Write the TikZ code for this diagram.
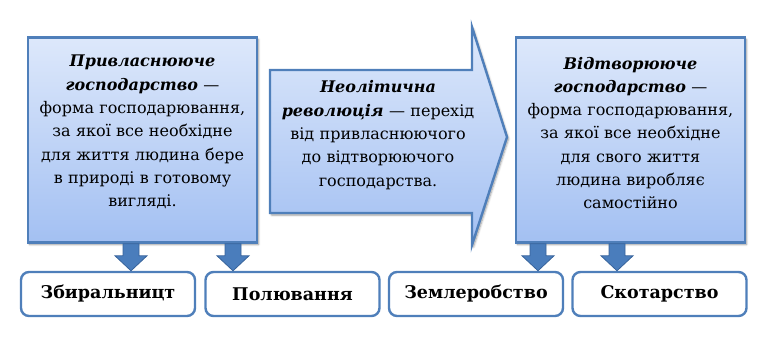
\documentclass[tikz,border=0pt]{standalone}
\usepackage{fontspec}
\setmainfont{DejaVu Serif}
\usetikzlibrary{positioning,calc,shadows.blur}
\definecolor{boxedge}{HTML}{4F7FBA}
\definecolor{boxtop}{HTML}{DDE8FB}
\definecolor{boxbot}{HTML}{A3C0F2}
\definecolor{arrfill}{HTML}{4A7DBC}
\definecolor{arredge}{HTML}{37639B}

\begin{document}
\begin{tikzpicture}[
  x=1pt, y=-1pt,
  mainbox/.style={draw=boxedge, line width=2.4pt, top color=boxtop, bottom color=boxbot, blur shadow={shadow xshift=1.5pt, shadow yshift=-2pt, shadow blur steps=6, shadow opacity=40}, minimum width=229pt, minimum height=205pt, inner sep=0pt},
  boxtext/.style={text width=222pt, align=center, inner sep=0pt, font=\fontsize{16}{23.3}\selectfont},
  leafbox/.style={draw=boxedge, line width=2.4pt, fill=white, rounded corners=8pt, minimum width=174pt, minimum height=44pt, font=\bfseries\fontsize{17.5}{20}\selectfont},
  blockarr/.style={fill=arrfill, draw=arredge, line width=0.8pt}
]
\useasboundingbox (0,0) rectangle (765,339);

% Main boxes
\node[mainbox] (appr) at (142.5,140) {};
\node[boxtext] (apprtxt) at ([yshift=8pt]appr.center) {\textbf{\textit{Привласнююче господарство}} —\\ форма господарювання,\\ за якої все необхідне\\ для життя людина бере\\ в природі в готовому\\ вигляді.};

\node[mainbox] (prod) at (630.5,140) {};
\node[boxtext] (prodtxt) at ([yshift=7pt]prod.center) {\textbf{\textit{Відтворююче господарство}} —\\ форма господарювання,\\ за якої все необхідне\\ для свого життя\\ людина виробляє\\ самостійно};

% Transition arrow
\path[draw=boxedge, line width=2.4pt, top color=boxtop, bottom color=boxbot, blur shadow={shadow xshift=1.5pt, shadow yshift=-2pt, shadow blur steps=6, shadow opacity=40}]
  (270,70) -- (472,70) -- (472,27) -- (507,137) -- (472,245) -- (472,213) -- (270,213) -- cycle;
\node[boxtext, text width=205pt] (rev) at (378,135) {\textbf{\textit{Неолітична революція}} — перехід від привласнюючого до відтворюючого господарства.};

% Leaf boxes
\node[leafbox] (gath) at (108,294) {Збиральницт};
\node[leafbox] (hunt) at (292.5,294) {Полювання};
\node[leafbox] (farm) at (476,294) {Землеробство};
\node[leafbox] (herd) at (659.5,294) {Скотарство};

% Block arrows
\foreach \xa/\src/\dst in {131/appr/gath, 233/appr/hunt, 538/prod/farm, 617/prod/herd}{
  \coordinate (s) at (\xa,0 |- \src.south);
  \coordinate (t) at (\xa,0 |- \dst.north);
  \draw[blockarr] ($(s)+(-8,0)$) -- ($(s)+(8,0)$) -- ($(t)+(8,-15)$) -- ($(t)+(16,-15)$) -- (t)
    -- ($(t)+(-16,-15)$) -- ($(t)+(-8,-15)$) -- cycle;
}

\end{tikzpicture}
\end{document}
